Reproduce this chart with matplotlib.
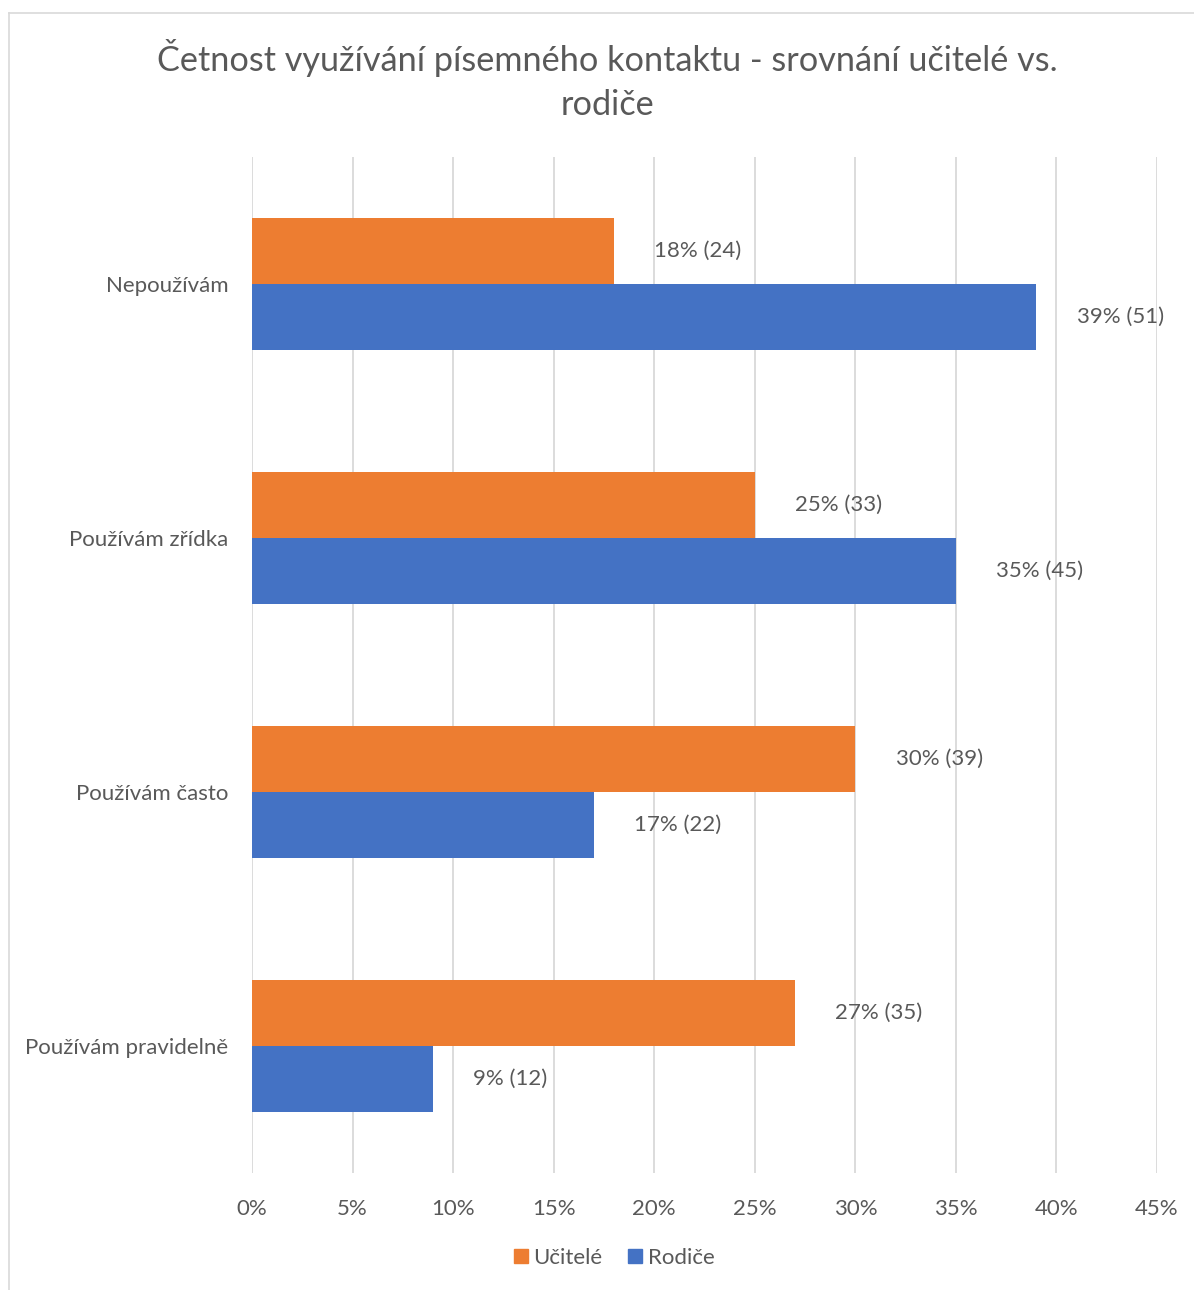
import matplotlib
matplotlib.use("Agg")
import matplotlib.pyplot as plt
from matplotlib.lines import Line2D
import numpy as np

categories = ["Nepoužívám", "Používám zřídka", "Používám často", "Používám pravidelně"]
ucitele_pct = [18, 25, 30, 27]
ucitele_n = [24, 33, 39, 35]
rodice_pct = [39, 35, 17, 9]
rodice_n = [51, 45, 22, 12]
xticks = [0, 5, 10, 15, 20, 25, 30, 35, 40, 45]
title = "Četnost využívání písemného kontaktu - srovnání učitelé vs.\nrodiče"

ORANGE = "#ED7D31"
BLUE = "#4472C4"
TXT = "#595959"
GRID = "#D9D9D9"
FONT = ["Lato", "DejaVu Sans"]

plt.rcParams["font.family"] = FONT

W, H = 1194, 1290
fig = plt.figure(figsize=(W / 100, H / 100), dpi=100)
ax = fig.add_axes([252 / W, 1 - 1173 / H, (1157 - 252) / W, (1173 - 157) / H])

y = np.arange(len(categories))
bh = 0.26
b1 = ax.barh(y - bh / 2, ucitele_pct, height=bh, color=ORANGE, zorder=3)
b2 = ax.barh(y + bh / 2, rodice_pct, height=bh, color=BLUE, zorder=3)

for bars, pct, n in ((b1, ucitele_pct, ucitele_n), (b2, rodice_pct, rodice_n)):
    for bar, p, k in zip(bars, pct, n):
        ax.annotate(f"{p}% ({k})", (bar.get_width(), bar.get_y() + bar.get_height() / 2),
                    xytext=(29, 0), textcoords="offset points", ha="left", va="center",
                    fontsize=16, color=TXT)

ax.set_xlim(0, 45)
ax.set_ylim(len(categories) - 0.5, -0.5)
ax.set_xticks(xticks)
ax.set_xticklabels([f"{v}%" for v in xticks])
ax.set_yticks(y)
ax.set_yticklabels(categories)
ax.tick_params(axis="both", length=0, labelsize=16, labelcolor=TXT)
ax.tick_params(axis="x", pad=19)
ax.tick_params(axis="y", pad=17)
ax.grid(axis="x", color=GRID, linewidth=1.3, zorder=0)
for s in ax.spines.values():
    s.set_visible(False)

fig.text(0.509, 1 - 80 / H, title, ha="center", va="center", fontsize=24.7,
         color=TXT, linespacing=1.45)

handles = [Line2D([], [], marker="s", linestyle="none", markersize=10.5, color=ORANGE),
           Line2D([], [], marker="s", linestyle="none", markersize=10.5, color=BLUE)]
fig.legend(handles, ["Učitelé", "Rodiče"], loc="center", bbox_to_anchor=(612 / W, 1 - 1258 / H),
           ncol=2, frameon=False, fontsize=16, labelcolor=TXT, handletextpad=0.05,
           columnspacing=1.0, handlelength=1.0)

# chart border (left and top visible)
fig.add_artist(Line2D([8.5 / W, 8.5 / W], [0, 1 - 12.5 / H], color="#D9D9D9", linewidth=1.2))
fig.add_artist(Line2D([8.5 / W, 1], [1 - 12.5 / H, 1 - 12.5 / H], color="#D9D9D9", linewidth=1.2))

fig.savefig("out.png", dpi=100)
